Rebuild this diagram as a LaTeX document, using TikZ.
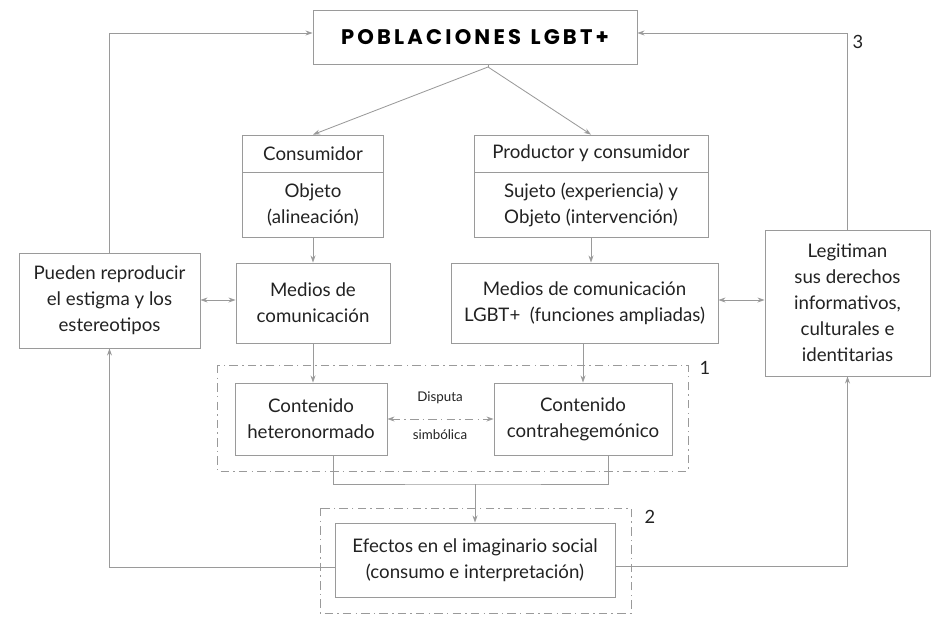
\documentclass[tikz,border=0pt]{standalone}
\usepackage{fontspec}
\setmainfont{Lato}
\newfontfamily\titlefont{Poppins}[LetterSpace=15]
\usetikzlibrary{arrows.meta,positioning,calc}
\definecolor{linegray}{HTML}{9A9A9A}
\definecolor{textgray}{HTML}{222222}

\begin{document}
\begin{tikzpicture}[
    box/.style={draw=linegray, line width=0.6pt, align=center, text=textgray, font=\fontsize{13.3}{18.5}\selectfont, inner sep=2pt},
    group/.style={draw=linegray, line width=0.5pt, dash pattern=on 6pt off 3pt on 1pt off 3pt},
    arrow/.style={-{Stealth[length=5pt,width=3.5pt]}, draw=linegray, line width=0.6pt},
    biarrow/.style={{Stealth[length=5pt,width=3.5pt]}-{Stealth[length=5pt,width=3.5pt]}, draw=linegray, line width=0.6pt},
    line/.style={draw=linegray, line width=0.6pt},
    num/.style={text=textgray, font=\fontsize{13}{15}\selectfont},
    small/.style={text=textgray, font=\fontsize{9.5}{11}\selectfont}
]
\useasboundingbox (0,0) rectangle (23.275,-15.475);

% Poblaciones
\node[box, minimum width=8.1cm, minimum height=1.35cm, text=black, font=\titlefont\bfseries\fontsize{15}{18}\selectfont] (pob) at (11.875,-0.925) {POBLACIONES\hspace{0.45em}LGBT+};
\coordinate (apex) at (12.2,-1.675);

% Roles
\node[box, minimum width=3.525cm, minimum height=0.925cm] (cons) at (7.825,-3.8375) {Consumidor};
\node[box, minimum width=3.525cm, minimum height=1.625cm] (obj) at (7.825,-5.1125) {Objeto\\(alineación)};
\node[box, minimum width=5.85cm, minimum height=0.925cm] (prod) at (14.775,-3.8375) {Productor y consumidor};
\node[box, minimum width=5.85cm, minimum height=1.625cm] (suj) at (14.775,-5.1125) {Sujeto (experiencia) y\\Objeto (intervención)};

% Medios
\node[box, minimum width=3.85cm, minimum height=2cm] (medios) at (7.825,-7.575) {Medios de\\comunicación};
\node[box, minimum width=6.675cm, minimum height=2cm] (medlgbt) at (14.6125,-7.575) {Medios de comunicación\\LGBT+~~(funciones ampliadas)};

% Side boxes
\node[box, minimum width=4.525cm, minimum height=2.375cm] (pueden) at (2.7375,-7.5125) {Pueden reproducir\\el estigma y los\\estereotipos};
\node[box, minimum width=4.125cm, minimum height=3.65cm] (legit) at (21.1875,-7.575) {Legitiman\\sus derechos\\informativos,\\culturales e\\identitarias};

% Contenidos
\node[box, minimum width=3.8cm, minimum height=1.8cm] (hetero) at (7.775,-10.475) {Contenido\\heteronormado};
\node[box, minimum width=4.45cm, minimum height=1.8cm] (contra) at (14.575,-10.475) {Contenido\\contrahegemónico};
\node[small] (disp) at (11.0,-9.95) {Disputa};
\node[small] (simb) at (11.0,-10.875) {simbólica};
\draw[group] (5.425,-9.125) rectangle (17.2,-11.775);
\node[num] (n1) at (17.625,-9.2) {1};

% Efectos
\node[box, minimum width=7cm, minimum height=1.85cm] (efectos) at (11.875,-14.0) {Efectos en el imaginario social\\(consumo e interpretación)};
\draw[group] (8.0,-12.7) rectangle (15.775,-15.325);
\node[num] (n2) at (16.25,-12.925) {2};
\node[num] (n3) at (21.45,-1.05) {3};
\coordinate (join) at (11.875,-12.1);

% Arrows
\draw[line] (pob.south -| apex) -- (apex);
\draw[arrow] (apex) -- (cons.north);
\draw[arrow] (apex) -- (prod.north);
\draw[arrow] (obj.south) -- (medios.north);
\draw[arrow] (suj.south) -- (suj.south |- medlgbt.north);
\draw[arrow] (medios.south) -- (medios.south |- hetero.north);
\draw[arrow] (medlgbt.south -| contra.north) -- (contra.north);
\draw[biarrow, dash pattern=on 6pt off 3pt on 1pt off 3pt] (hetero.east) -- (contra.west);
\draw[biarrow] ([yshift=0.0125cm]pueden.east) -- ([yshift=0.0125cm]pueden.east -| medios.west);
\draw[biarrow] ([yshift=0.075cm]medlgbt.east) -- ([yshift=0.075cm]medlgbt.east -| legit.west);
\draw[line] ([xshift=0.55cm]hetero.south) |- (join) -| ([xshift=0.625cm]contra.south);
\draw[arrow] (join) -- (efectos.north);
\draw[arrow] (pueden.north) |- ([yshift=0.1cm]pob.west);
\draw[arrow] (legit.north) |- ([yshift=0.1cm]pob.east);
\draw[arrow] ([yshift=-0.175cm]efectos.west) -| (pueden.south);
\draw[arrow] ([yshift=-0.15cm]efectos.east) -| (legit.south);

\end{tikzpicture}
\end{document}
